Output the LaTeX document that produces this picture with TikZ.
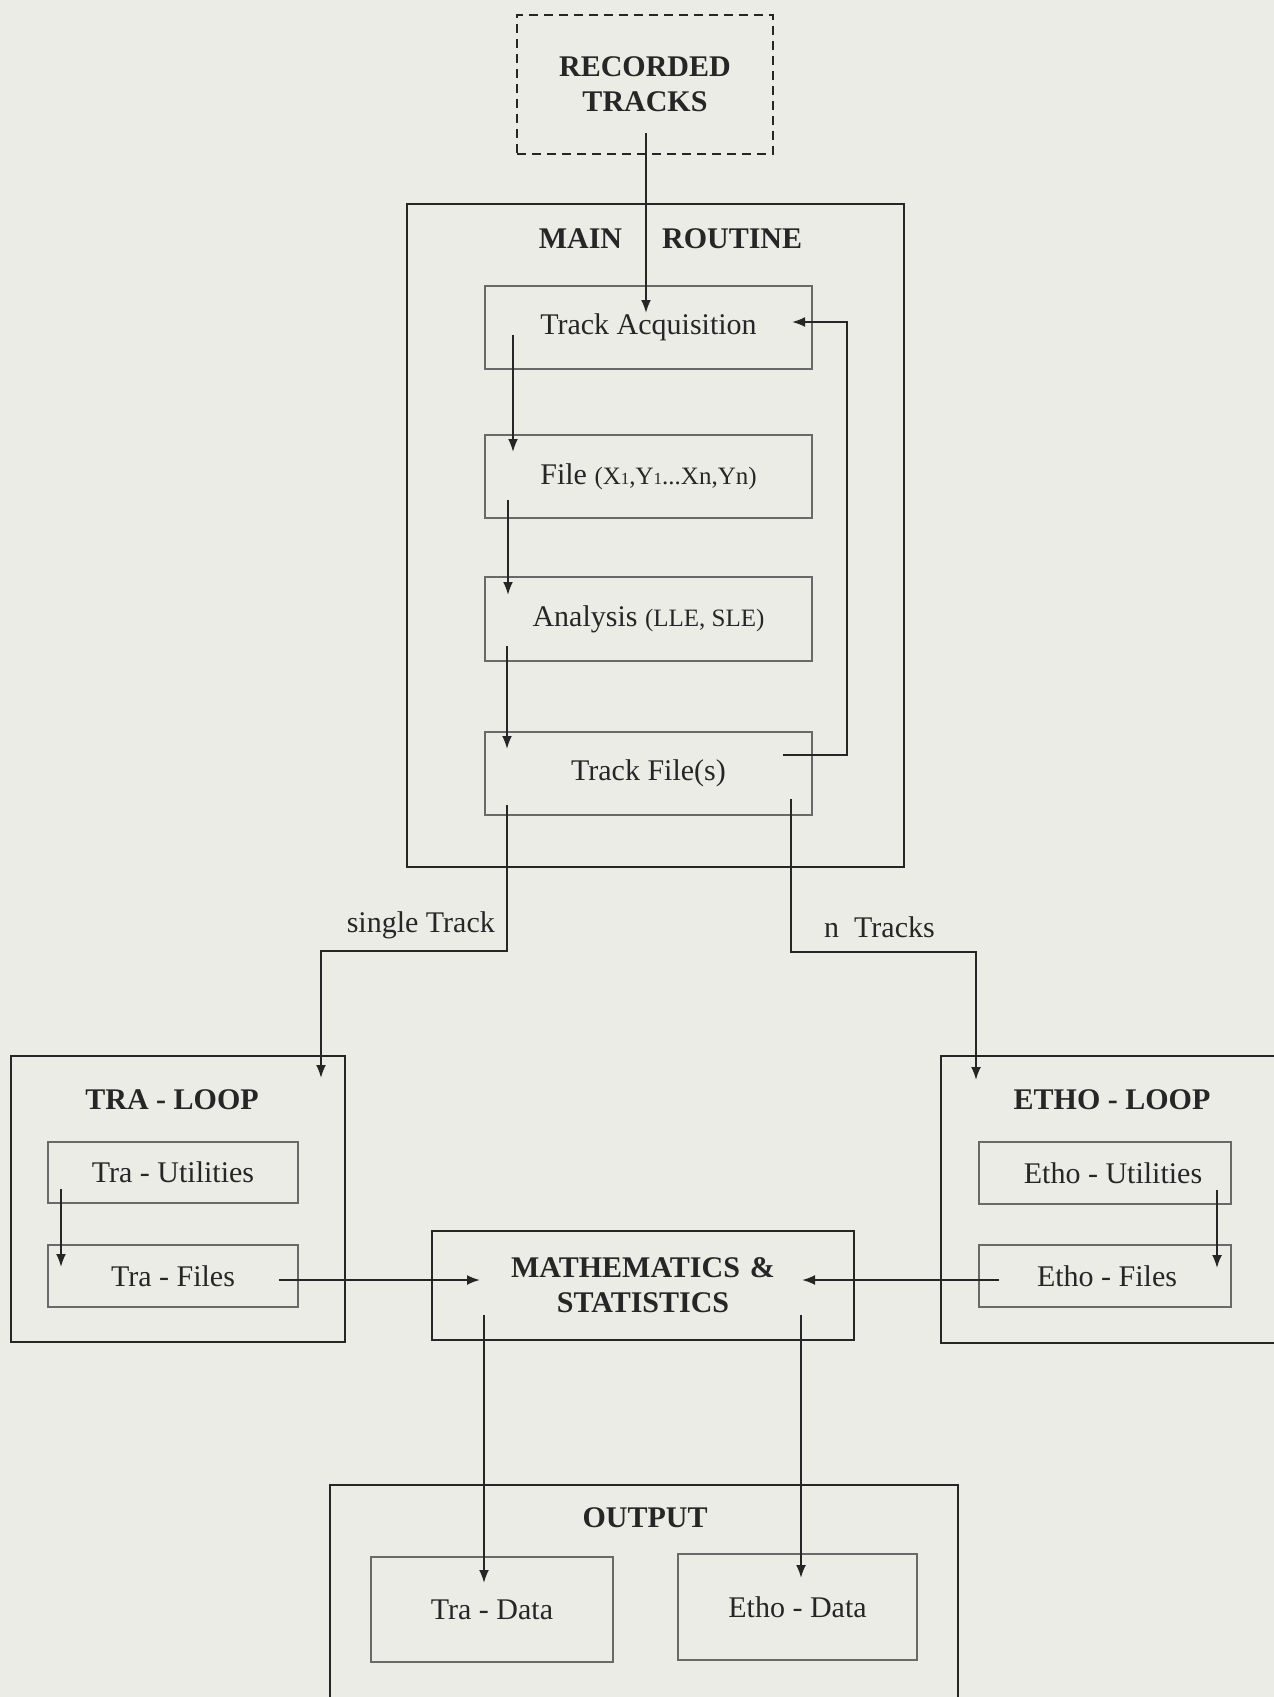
\documentclass[tikz,border=0pt]{standalone}
\usepackage{fontspec}
\setmainfont{Liberation Serif}
\usetikzlibrary{arrows.meta}
\definecolor{paper}{RGB}{236,236,231}
\definecolor{ink}{RGB}{38,38,38}
\definecolor{thinline}{RGB}{105,105,105}
\newcommand\fdRm{\fontsize{30}{35}\selectfont}
\newcommand\fdBf{\fontsize{30}{35}\selectfont\bfseries}
\newcommand\fdSm{\fontsize{25}{30}\selectfont}
\newcommand\fdTiny{\fontsize{17}{20}\selectfont}
\begin{document}
\begin{tikzpicture}[x=1pt,y=-1pt,
  obox/.style={draw=ink,line width=2.2pt,inner sep=0pt},
  dbox/.style={draw=ink,line width=2.2pt,dash pattern=on 9pt off 6pt,inner sep=0pt},
  ibox/.style={draw=thinline,line width=1.3pt,inner sep=0pt,font=\fdRm,text=ink},
  hd/.style={font=\fdBf,text=ink,inner sep=0pt},
  lbl/.style={font=\fdRm,text=ink,inner sep=0pt},
  arr/.style={draw=ink,line width=2pt,-{Latex[length=13pt,width=10pt]}},
]
\useasboundingbox (0,0) rectangle (1274,1697);
\fill[paper] (0,0) rectangle (1274,1697);
\clip (0,0) rectangle (1274,1697);

% --- recorded tracks
\node[dbox,minimum width=256pt,minimum height=139pt,align=center,font=\fdBf,text=ink] (rec) at (645,84.5) {RECORDED\\TRACKS};

% --- main routine
\node[obox,minimum width=497pt,minimum height=663pt] (main) at (655.5,535.5) {};
\node[hd] (mainlbl) at (670.5,239) {MAIN\hspace{32.5pt} ROUTINE};
\node[ibox,minimum width=327pt,minimum height=83pt] (ta) at (648.5,327.5) {Track Acquisition};
\node[ibox,minimum width=327pt,minimum height=83pt] (file) at (648.5,476.5) {File {\fdSm(X{\fdTiny 1},Y{\fdTiny 1}...Xn,Yn)}};
\node[ibox,minimum width=327pt,minimum height=84pt] (ana) at (648.5,619) {Analysis {\fdSm(LLE, SLE)}};
\node[ibox,minimum width=327pt,minimum height=83pt] (tf) at (648.5,773.5) {Track File(s)};

% --- TRA loop
\node[obox,minimum width=334pt,minimum height=286pt] (tra) at (178,1199) {};
\node[hd] (tralbl) at (172,1100) {TRA - LOOP};
\node[ibox,minimum width=250pt,minimum height=61pt] (trau) at (173,1172.5) {Tra - Utilities};
\node[ibox,minimum width=250pt,minimum height=62pt] (traf) at (173,1276) {Tra - Files};

% --- ETHO loop
\node[obox,minimum width=359pt,minimum height=287pt] (etho) at (1120.5,1199.5) {};
\node[hd] (etholbl) at (1112,1100) {ETHO - LOOP};
\node[ibox,minimum width=252pt,minimum height=62pt] (ethou) at (1105,1173) {\hspace{16pt}Etho - Utilities};
\node[ibox,minimum width=252pt,minimum height=62pt] (ethof) at (1105,1276) {\hspace{4pt}Etho - Files};

% --- mathematics
\node[obox,minimum width=422pt,minimum height=109pt,font=\fdBf,text=ink,align=center] (math) at (643,1285.5) {MATHEMATICS\hspace{10pt}\&\\STATISTICS};

% --- output
\node[obox,minimum width=628pt,minimum height=260pt] (out) at (644,1615) {};
\node[hd] (outlbl) at (645,1518) {OUTPUT};
\node[ibox,minimum width=242pt,minimum height=105pt] (trad) at (492,1609.5) {Tra - Data};
\node[ibox,minimum width=239pt,minimum height=106pt] (ethod) at (797.5,1607) {Etho - Data};

% --- branch labels
\node[lbl,anchor=base east] (sgllbl) at (495,932) {single Track};
\node[lbl,anchor=base west] (nlbl) at (824,937) {n\ \ Tracks};

% --- connector end points
\coordinate (rec-out) at (646,133);
\coordinate (ta-in) at (646,313);
\coordinate (ta-out) at (513,335);
\coordinate (file-in) at (513,452);
\coordinate (file-out) at (508,500);
\coordinate (ana-in) at (508,595);
\coordinate (ana-out) at (507,646);
\coordinate (tf-in) at (507,749);
\coordinate (tf-fb) at (783,755);
\coordinate (fbc) at (847,322);
\coordinate (ta-fb) at (792,322);
\coordinate (tf-s) at (507,805);
\coordinate (sglc) at (321,951);
\coordinate (tra-in) at (321,1078);
\coordinate (tf-n) at (791,799);
\coordinate (ntc) at (976,952);
\coordinate (etho-in) at (976,1080);
\coordinate (trau-out) at (61,1189);
\coordinate (traf-in) at (61,1267);
\coordinate (traf-out) at (279,1280);
\coordinate (math-l) at (480,1280);
\coordinate (ethou-out) at (1217,1190);
\coordinate (ethof-in) at (1217,1268);
\coordinate (ethof-out) at (999,1280);
\coordinate (math-r) at (802,1280);
\coordinate (math-o1) at (484,1315);
\coordinate (trad-in) at (484,1583);
\coordinate (math-o2) at (801,1315);
\coordinate (ethod-in) at (801,1578);

% --- connectors
\draw[arr] (rec-out) -- (ta-in);
\draw[arr] (ta-out) -- (file-in);
\draw[arr] (file-out) -- (ana-in);
\draw[arr] (ana-out) -- (tf-in);
\draw[arr] (tf-fb) -| (fbc) -- (ta-fb);
\draw[arr] (tf-s) |- (sglc) -- (tra-in);
\draw[arr] (tf-n) |- (ntc) -- (etho-in);
\draw[arr] (trau-out) -- (traf-in);
\draw[arr] (traf-out) -- (math-l);
\draw[arr] (ethou-out) -- (ethof-in);
\draw[arr] (ethof-out) -- (math-r);
\draw[arr] (math-o1) -- (trad-in);
\draw[arr] (math-o2) -- (ethod-in);
\end{tikzpicture}
\end{document}
